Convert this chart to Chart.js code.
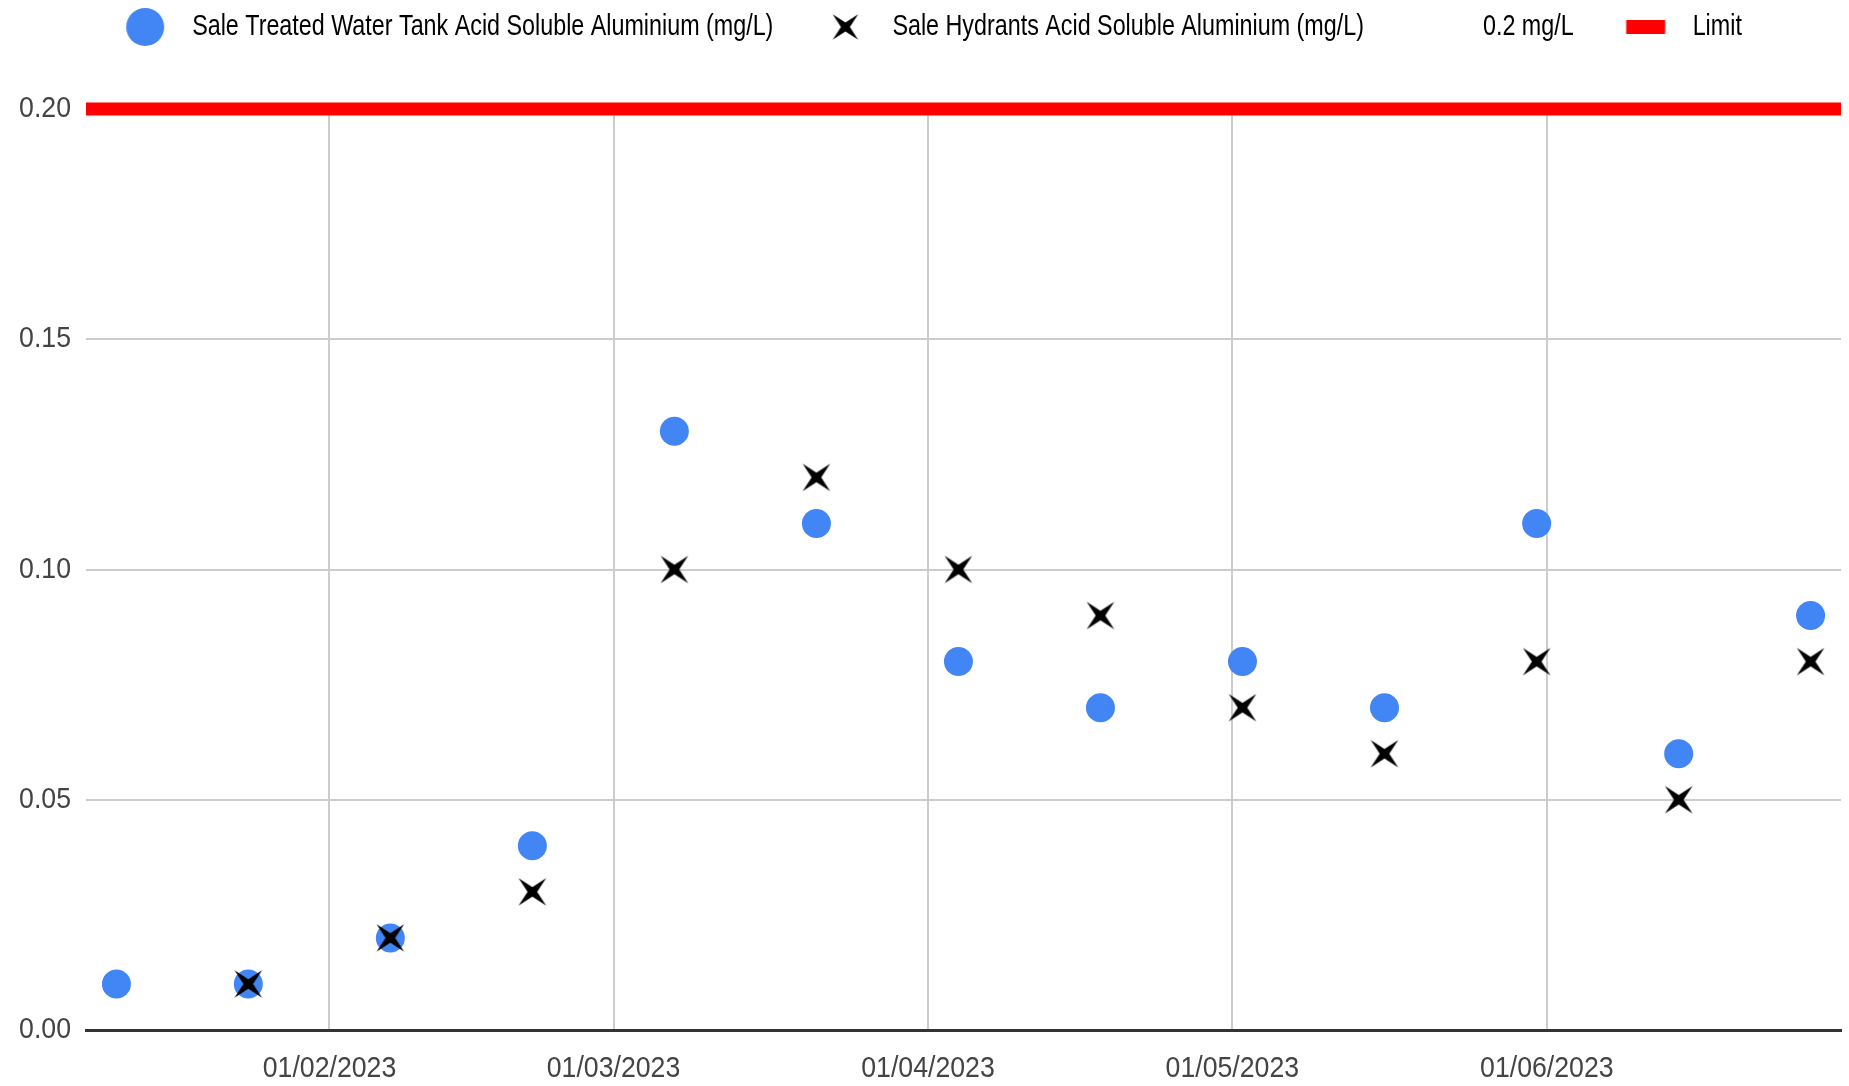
<!DOCTYPE html>
<html>
<head>
<meta charset="utf-8">
<title>Sale Acid Soluble Aluminium</title>
<script src="https://cdn.jsdelivr.net/npm/chart.js@4.4.0/dist/chart.umd.min.js"></script>
<style>
  html, body { margin: 0; padding: 0; background: #fff; overflow: hidden; }
  #wrap { width: 1849px; height: 1086px; }
</style>
</head>
<body>
<div id="wrap"><canvas id="chart"></canvas></div>
<script>
// ==================== DATA ====================
const sampleDates = [
  '2023-01-11', '2023-01-24', '2023-02-07', '2023-02-21', '2023-03-07',
  '2023-03-21', '2023-04-04', '2023-04-18', '2023-05-02', '2023-05-16',
  '2023-05-31', '2023-06-14', '2023-06-27'
];
const tankValues = [0.01, 0.01, 0.02, 0.04, 0.13, 0.11, 0.08, 0.07, 0.08, 0.07, 0.11, 0.06, 0.09];
const hydrantValues = [null, 0.01, 0.02, 0.03, 0.10, 0.12, 0.10, 0.09, 0.07, 0.06, 0.08, 0.05, 0.08];
const limitValue = 0.2;
const xRange = ['2023-01-08', '2023-06-30'];
const monthTicks = ['2023-02-01', '2023-03-01', '2023-04-01', '2023-05-01', '2023-06-01'];
const yTicks = [0, 0.05, 0.10, 0.15, 0.20];
const seriesNames = [
  'Sale Treated Water Tank Acid Soluble Aluminium (mg/L)',
  'Sale Hydrants Acid Soluble Aluminium (mg/L)',
  '0.2 mg/L',
  'Limit'
];

const FONT = "'Liberation Sans', Arial, sans-serif";
const LEGEND_SIZE = 30;
const TICK_SIZE = 29;
const BLUE = '#4285f4';
const RED = '#ff0000';

const toTime = d => Date.parse(d);
const pad2 = n => String(n).padStart(2, '0');
const fmtDate = v => {
  const d = new Date(v);
  return pad2(d.getUTCDate()) + '/' + pad2(d.getUTCMonth() + 1) + '/' + d.getUTCFullYear();
};

// ==================== NARROW TEXT ====================
// no narrow font installed, so squeeze the text horizontally (still real fillText)
const canvas = document.getElementById('chart');
const ctx2d = canvas.getContext('2d');
const TEXT_SQUEEZE = { [LEGEND_SIZE]: 0.777, [TICK_SIZE]: 0.92 };

function squeezeFor(font) {
  const m = /(\d+(?:\.\d+)?)px/.exec(font);
  return (m && TEXT_SQUEEZE[m[1]]) || 1;
}

const rawFill = ctx2d.fillText.bind(ctx2d);
const rawMeasure = ctx2d.measureText.bind(ctx2d);

ctx2d.measureText = text => {
  const m = rawMeasure(text);
  return {
    width: m.width * squeezeFor(ctx2d.font),
    actualBoundingBoxAscent: m.actualBoundingBoxAscent,
    actualBoundingBoxDescent: m.actualBoundingBoxDescent
  };
};

ctx2d.fillText = (text, x, y, maxWidth) => {
  const k = squeezeFor(ctx2d.font);
  if (k === 1) return rawFill(text, x, y, maxWidth);
  ctx2d.save();
  ctx2d.translate(x, y);
  ctx2d.scale(k, 1);
  rawFill(text, 0, 0);
  ctx2d.restore();
};

// ==================== MARKERS ====================
function makeCanvas(w, h, draw) {
  const c = document.createElement('canvas');
  c.width = w;
  c.height = h;
  draw(c.getContext('2d'));
  return c;
}

// 4-pointed star turned 45deg, like the x markers in the original
function starPath(ctx, cx, cy, tip, inner) {
  ctx.beginPath();
  for (let i = 0; i < 8; i++) {
    const a = Math.PI / 4 + i * Math.PI / 4;
    const r = i % 2 === 0 ? tip : inner;
    const x = cx + Math.cos(a) * r;
    const y = cy + Math.sin(a) * r;
    if (i === 0) ctx.moveTo(x, y); else ctx.lineTo(x, y);
  }
  ctx.closePath();
}

const starMarker = makeCanvas(32, 32, ctx => {
  ctx.fillStyle = '#000';
  starPath(ctx, 16, 16, 19.5, 4.8);
  ctx.fill();
});

// legend markers sit inside a wider box so the gaps match the original
const LEG_W = 78, LEG_H = 40, LEG_X = 46, LEG_Y = 20, LEG_PAD = 26;
const legendMarkers = [
  makeCanvas(LEG_W, LEG_H, ctx => {
    ctx.fillStyle = BLUE;
    ctx.beginPath();
    ctx.arc(LEG_X, LEG_Y, 19, 0, Math.PI * 2);
    ctx.fill();
  }),
  makeCanvas(LEG_W, LEG_H, ctx => {
    ctx.fillStyle = '#000';
    starPath(ctx, LEG_X, LEG_Y, 18, 4.5);
    ctx.fill();
  }),
  makeCanvas(LEG_W, LEG_H, () => {}),
  makeCanvas(LEG_W, LEG_H, ctx => {
    ctx.fillStyle = RED;
    ctx.fillRect(LEG_X - 19.5, LEG_Y - 7, 39, 14);
  })
];

// ==================== CHART ====================
const legendGap = {
  id: 'legendGap',
  beforeInit(chart) {
    const fit = chart.legend.fit;
    chart.legend.fit = function () {
      fit.call(this);
      this.height += 57;
    };
  }
};

new Chart(canvas, {
  type: 'scatter',
  data: {
    datasets: [
      {
        label: seriesNames[0],
        data: sampleDates.map((d, i) => ({ x: toTime(d), y: tankValues[i] })),
        pointStyle: 'circle',
        pointRadius: 14.5,
        pointHoverRadius: 14.5,
        pointBorderWidth: 0,
        backgroundColor: BLUE,
        borderColor: BLUE,
        order: 3
      },
      {
        label: seriesNames[1],
        data: sampleDates.map((d, i) => ({ x: toTime(d), y: hydrantValues[i] }))
          .filter(p => p.y !== null),
        pointStyle: starMarker,
        pointRadius: 14,
        backgroundColor: '#000',
        borderColor: '#000',
        order: 2
      },
      {
        label: seriesNames[3],
        type: 'line',
        data: xRange.map(d => ({ x: toTime(d), y: limitValue })),
        borderColor: RED,
        backgroundColor: RED,
        borderWidth: 13,
        pointRadius: 0,
        clip: false,
        order: 1
      }
    ]
  },
  options: {
    responsive: true,
    maintainAspectRatio: false,
    animation: false,
    layout: { autoPadding: false, padding: { top: -14, right: 8, left: 0, bottom: 0 } },
    plugins: {
      tooltip: { enabled: false },
      legend: {
        position: 'top',
        labels: {
          usePointStyle: true,
          pointStyleWidth: LEG_W,
          padding: LEG_PAD,
          color: '#222',
          font: { family: FONT, size: LEGEND_SIZE },
          generateLabels: () => seriesNames.map((name, i) => ({
            text: name,
            pointStyle: legendMarkers[i],
            fillStyle: 'transparent',
            strokeStyle: 'transparent',
            lineWidth: 0,
            hidden: false,
            datasetIndex: i
          }))
        },
        onClick: () => {}
      }
    },
    scales: {
      x: {
        type: 'linear',
        min: toTime(xRange[0]),
        max: toTime(xRange[1]),
        afterBuildTicks: scale => {
          scale.ticks = monthTicks.map(d => ({ value: toTime(d) }));
        },
        afterFit: scale => {
          scale.height = 56;
          scale.paddingLeft = 0;
          scale.paddingRight = 0;
        },
        ticks: {
          callback: v => fmtDate(v),
          color: '#444',
          font: { family: FONT, size: TICK_SIZE },
          padding: 22,
          maxRotation: 0,
          autoSkip: false
        },
        grid: { color: '#cccccc', lineWidth: 2, drawTicks: false },
        border: { display: true, color: '#333', width: 3 }
      },
      y: {
        min: 0,
        max: 0.2,
        afterBuildTicks: scale => {
          scale.ticks = yTicks.map(v => ({ value: v }));
        },
        afterFit: scale => { scale.width = 86; },
        ticks: {
          callback: v => v.toFixed(2),
          color: '#444',
          font: { family: FONT, size: TICK_SIZE },
          padding: 15
        },
        grid: { color: '#cccccc', lineWidth: 2, drawTicks: false },
        border: { display: false }
      }
    }
  },
  plugins: [legendGap]
});
</script>
</body>
</html>
